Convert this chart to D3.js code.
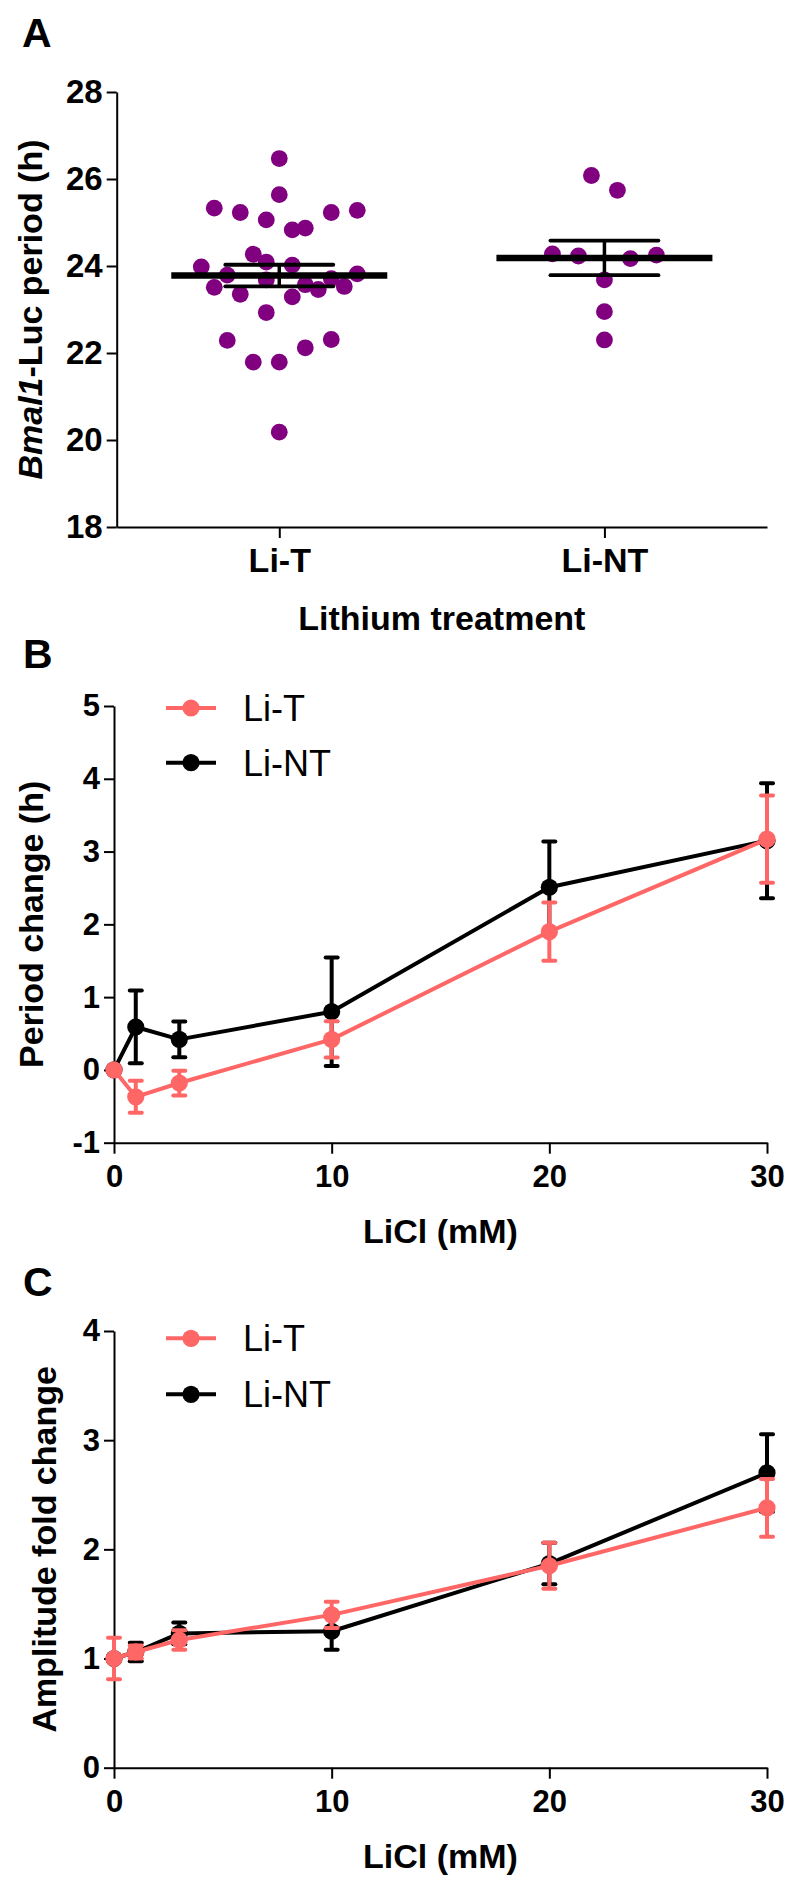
<!DOCTYPE html>
<html><head><meta charset="utf-8">
<script src="https://cdn.jsdelivr.net/npm/d3@7"></script>
<style>
body{margin:0;background:#fff}
svg{display:block}
text{font-family:"Liberation Sans",Arial,Helvetica,sans-serif}
</style>
</head><body>
<svg id="chart" width="800" height="1893"></svg>
<script>
// ---------- Panel A data ----------
const groups = ["Li-T", "Li-NT"];
const periodTicks = [18, 20, 22, 24, 26, 28];
const liTPeriod = [26.47, 25.64, 25.33, 25.23, 25.06, 25.23, 25.28, 24.83, 24.87, 24.27,
                   24.09, 24.02, 23.98, 23.79, 23.82, 23.71, 23.68, 23.51, 23.57, 23.46,
                   23.53, 23.35, 23.29, 22.93, 22.29, 22.31, 22.12, 21.79, 21.79, 20.18];
// column of each dot in the scatter arrangement (0 = centre)
const liTColumn = [0, 0, -5, -3, -1, 4, 6, 1, 2, -2,
                   -1, 1, -6, -4, 6, 4, -1, -5, 2, 3,
                   5, -3, 1, -1, -4, 4, 2, -2, 0, 0];
const liNTPeriod = [26.08, 25.74, 24.28, 24.23, 24.17, 24.25, 23.68, 22.95, 22.30];
const liNTColumn = [-1, 1, -4, -2, 2, 4, 0, 0, 0];

// ---------- Panel B / C data ----------
const doses = [0, 1, 3, 10, 20, 30];
const doseTicks = [0, 10, 20, 30];
const periodChangeTicks = [-1, 0, 1, 2, 3, 4, 5];
const periodLiT = [0, -0.37, -0.18, 0.42, 1.90, 3.17];
const periodLiTSem = [0, 0.22, 0.17, 0.25, 0.40, 0.60];
const periodLiNT = [0, 0.59, 0.42, 0.80, 2.51, 3.15];
const periodLiNTSem = [0, 0.50, 0.245, 0.745, 0.63, 0.79];

const ampTicks = [0, 1, 2, 3, 4];
const ampLiT = [1.0, 1.06, 1.17, 1.40, 1.85, 2.38];
const ampLiTSem = [0.19, 0.06, 0.09, 0.12, 0.21, 0.265];
const ampLiNT = [1.0, 1.06, 1.23, 1.25, 1.87, 2.70];
const ampLiNTSem = [0, 0.085, 0.10, 0.17, 0.19, 0.355];

const PURPLE = "#800080", SALMON = "#ff6666", BLACK = "#000";
const svg = d3.select("#chart");
const FONT = '"Liberation Sans",Arial,Helvetica,sans-serif';
const plainFmt = d => String(d);   // hyphen-minus like the original

function styleAxis(g, size) {
  g.attr("font-family", FONT).attr("font-size", size).attr("font-weight", "bold");
  g.selectAll(".domain").attr("stroke", "#000").attr("stroke-width", 2);
  g.selectAll(".tick line").attr("stroke", "#000").attr("stroke-width", 2);
  g.selectAll(".tick text").attr("fill", "#000");
}

function panelLetter(t, x, y) {
  svg.append("text").attr("x", x).attr("y", y).text(t)
    .attr("font-size", 41).attr("font-weight", "bold");
}

// ================= Panel A =================
(function () {
  const left = 116.7, right = 767, top = 92, bottom = 527;
  const y = d3.scaleLinear().domain([18, 28]).range([bottom, top]);
  const x = d3.scalePoint().domain(groups).range([left, right]).padding(0.5);
  const colW = 13;

  const gy = svg.append("g").attr("transform", `translate(${left},0)`)
    .call(d3.axisLeft(y).tickValues(periodTicks).tickFormat(plainFmt)
      .tickSize(10).tickSizeOuter(0).tickPadding(4));
  styleAxis(gy, 33);
  const gx = svg.append("g").attr("transform", `translate(0,${bottom})`)
    .call(d3.axisBottom(x).tickSize(11).tickSizeOuter(0).tickPadding(10));
  styleAxis(gx, 34);

  const sets = [
    {g: "Li-T", v: liTPeriod, c: liTColumn},
    {g: "Li-NT", v: liNTPeriod, c: liNTColumn}
  ];
  sets.forEach(s => {
    const cx = x(s.g);
    svg.append("g").selectAll("circle").data(s.v).join("circle")
      .attr("cx", (d, i) => cx + s.c[i] * colW)
      .attr("cy", d => y(d))
      .attr("r", 8.4)
      .attr("fill", PURPLE);
    const m = d3.mean(s.v);
    const sem = d3.deviation(s.v) / Math.sqrt(s.v.length);
    const g = svg.append("g").attr("stroke", "#000");
    g.append("line").attr("x1", cx - 108).attr("x2", cx + 108)
      .attr("y1", y(m)).attr("y2", y(m)).attr("stroke-width", 6.5);
    g.append("line").attr("x1", cx).attr("x2", cx)
      .attr("y1", y(m + sem)).attr("y2", y(m - sem)).attr("stroke-width", 3.5);
    [m + sem, m - sem].forEach(v => {
      g.append("line").attr("x1", cx - 54).attr("x2", cx + 54)
        .attr("y1", y(v)).attr("y2", y(v)).attr("stroke-width", 3.8)
        .attr("stroke-linecap", "round");
    });
  });

  svg.append("text")
    .attr("transform", `translate(42,${(top + bottom) / 2}) rotate(-90)`)
    .attr("text-anchor", "middle").attr("font-size", 34).attr("font-weight", "bold")
    .call(t => {
      t.append("tspan").attr("font-style", "italic").text("Bmal1");
      t.append("tspan").text("-Luc period (h)");
    });
  svg.append("text").attr("x", (left + right) / 2).attr("y", 630)
    .attr("text-anchor", "middle").attr("font-size", 34).attr("font-weight", "bold")
    .text("Lithium treatment");
  panelLetter("A", 22, 47);
})();

// ================= Line panels =================
function linePanel(opt) {
  const left = 114, right = 767;
  const y = d3.scaleLinear().domain(opt.domain).range([opt.bottom, opt.top]);
  const x = d3.scaleLinear().domain([0, 30]).range([left, right]);

  const gy = svg.append("g").attr("transform", `translate(${left},0)`)
    .call(d3.axisLeft(y).tickValues(opt.ticks).tickFormat(plainFmt)
      .tickSize(10).tickSizeOuter(0).tickPadding(4));
  styleAxis(gy, 31);
  const gx = svg.append("g").attr("transform", `translate(0,${opt.bottom})`)
    .call(d3.axisBottom(x).tickValues(doseTicks).tickFormat(plainFmt)
      .tickSize(11).tickSizeOuter(0).tickPadding(11));
  styleAxis(gx, 31);

  const series = [
    {mean: opt.nt, sem: opt.ntSem, color: BLACK},
    {mean: opt.t, sem: opt.tSem, color: SALMON}
  ];
  series.forEach(s => {
    const pts = doses.map((d, i) => ({x: d, m: s.mean[i], e: s.sem[i]}));
    const g = svg.append("g");
    g.append("path").datum(pts)
      .attr("d", d3.line().x(p => x(p.x)).y(p => y(p.m)))
      .attr("fill", "none").attr("stroke", s.color).attr("stroke-width", 4)
      .attr("stroke-linejoin", "round");
    pts.filter(p => p.e > 0).forEach(p => {
      const eg = g.append("g").attr("stroke", s.color).attr("stroke-width", 4);
      eg.append("line").attr("x1", x(p.x)).attr("x2", x(p.x))
        .attr("y1", y(p.m + p.e)).attr("y2", y(p.m - p.e));
      [p.m + p.e, p.m - p.e].forEach(v => {
        eg.append("line").attr("x1", x(p.x) - 6).attr("x2", x(p.x) + 6)
          .attr("y1", y(v)).attr("y2", y(v)).attr("stroke-linecap", "round");
      });
    });
    g.selectAll("circle").data(pts).join("circle")
      .attr("cx", p => x(p.x)).attr("cy", p => y(p.m)).attr("r", 8.6)
      .attr("fill", s.color);
  });

  // legend
  const leg = [{name: "Li-T", color: SALMON, y: opt.legY[0]}, {name: "Li-NT", color: BLACK, y: opt.legY[1]}];
  leg.forEach(l => {
    svg.append("line").attr("x1", 166).attr("x2", 216).attr("y1", l.y).attr("y2", l.y)
      .attr("stroke", l.color).attr("stroke-width", 4);
    svg.append("circle").attr("cx", 191).attr("cy", l.y).attr("r", 8.6).attr("fill", l.color);
    svg.append("text").attr("x", 243).attr("y", l.y + 13).attr("font-size", 36)
      .text(l.name);
  });

  svg.append("text")
    .attr("transform", `translate(${opt.yLabX},${(opt.top + opt.bottom) / 2}) rotate(-90)`)
    .attr("text-anchor", "middle").attr("font-size", 34).attr("font-weight", "bold")
    .text(opt.yLabel);
  svg.append("text").attr("x", (left + right) / 2).attr("y", opt.bottom + 100)
    .attr("text-anchor", "middle").attr("font-size", 34).attr("font-weight", "bold")
    .text("LiCl (mM)");
  panelLetter(opt.letter, 23, opt.letterY);
}

linePanel({
  letter: "B", letterY: 668, top: 706, bottom: 1142.7, domain: [-1, 5],
  ticks: periodChangeTicks, t: periodLiT, tSem: periodLiTSem, nt: periodLiNT, ntSem: periodLiNTSem,
  legY: [708, 762.7], yLabel: "Period change (h)", yLabX: 43
});
linePanel({
  letter: "C", letterY: 1296, top: 1331, bottom: 1767.7, domain: [0, 4],
  ticks: ampTicks, t: ampLiT, tSem: ampLiTSem, nt: ampLiNT, ntSem: ampLiNTSem,
  legY: [1338.3, 1394.3], yLabel: "Amplitude fold change", yLabX: 56
});
</script>
</body></html>
